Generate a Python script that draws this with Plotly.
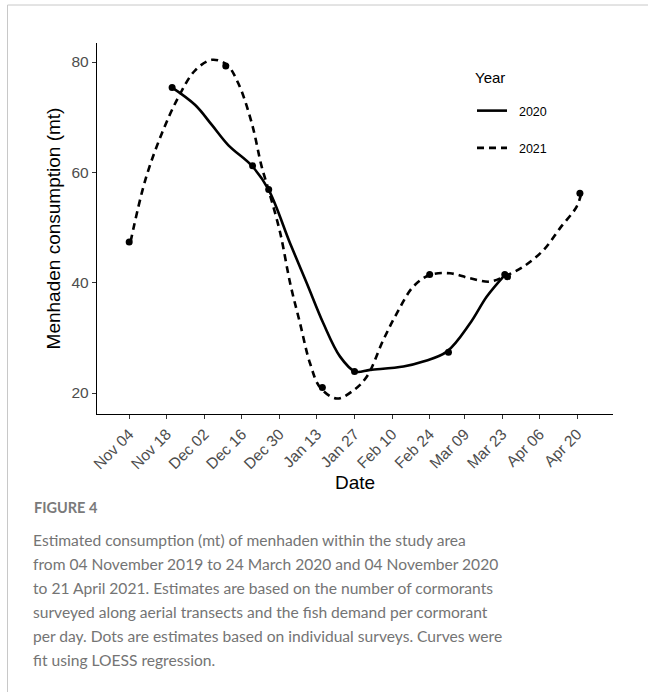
import pandas as pd
import plotly.graph_objects as go

# ---------------- data ----------------
base_date = "2020-11-04"  # common dummy season axis (Nov 04 .. Apr)

# survey dots
dots_2020_dates = ["2020-11-20", "2020-12-20", "2021-01-27", "2021-03-03", "2021-03-24"]
dots_2020_vals = [75.4, 61.2, 23.9, 27.4, 41.5]

dots_2021_dates = ["2020-11-04", "2020-12-10", "2020-12-26", "2021-01-15", "2021-02-24", "2021-03-25", "2021-04-21"]
dots_2021_vals = [47.4, 79.3, 56.9, 21.0, 41.5, 41.1, 56.2]

# LOESS curves (days after Nov 04, value)
curve_2020_days = [15.9, 24.6, 30.8, 37.0, 45.7, 51.9, 60.0, 66.2, 72.4, 78.6, 84.2,
                   89.8, 102.2, 109.6, 118.4, 127.0, 133.3, 139.8]
curve_2020_vals = [75.4, 72.2, 68.6, 64.9, 61.2, 56.9, 47.1, 39.9, 32.6, 26.6, 23.9,
                   24.2, 24.8, 25.7, 27.5, 32.6, 37.5, 41.3]

curve_2021_days = [0.5, 6.0, 12.2, 18.4, 24.6, 30.8, 36.4, 40.7, 45.7, 49.4, 51.9, 56.3,
                   60.0, 63.7, 67.4, 71.2, 77.4, 83.6, 88.6, 94.7, 99.7, 105.9, 112.1,
                   119.6, 127.0, 134.5, 140.1, 146.9, 154.4, 160.6, 166.8, 168.5]
curve_2021_vals = [47.4, 58.6, 67.1, 73.7, 78.5, 80.4, 79.5, 76.1, 68.9, 61.0, 56.9, 49.0,
                   39.9, 32.6, 25.4, 21.0, 19.0, 20.5, 23.0, 29.6, 34.4, 39.3, 41.4,
                   41.7, 40.8, 40.2, 41.2, 42.9, 45.9, 49.9, 53.8, 56.2]

tick_dates = ["2020-11-04", "2020-11-18", "2020-12-02", "2020-12-16", "2020-12-30",
              "2021-01-13", "2021-01-27", "2021-02-10", "2021-02-24", "2021-03-09",
              "2021-03-23", "2021-04-06", "2021-04-20"]
tick_labels = ["Nov 04", "Nov 18", "Dec 02", "Dec 16", "Dec 30", "Jan 13", "Jan 27",
               "Feb 10", "Feb 24", "Mar 09", "Mar 23", "Apr 06", "Apr 20"]
y_ticks = [20, 40, 60, 80]

legend_title = "Year"
caption_title = "FIGURE 4"
caption_lines = [
    "Estimated consumption (mt) of menhaden within the study area",
    "from 04 November 2019 to 24 March 2020 and 04 November 2020",
    "to 21 April 2021. Estimates are based on the number of cormorants",
    "surveyed along aerial transects and the fish demand per cormorant",
    "per day. Dots are estimates based on individual surveys. Curves were",
    "fit using LOESS regression.",
]

# ---------------- figure ----------------
W, H = 648, 692
ML, MR, MT, MB = 97, 35, 43, 278
PW, PH = W - ML - MR, H - MT - MB


def px_x(px):
    return (px - ML) / PW


def px_y(py):
    return (H - MB - py) / PH


b = pd.Timestamp(base_date)
c20x = [b + pd.Timedelta(days=d) for d in curve_2020_days]
c21x = [b + pd.Timedelta(days=d) for d in curve_2021_days]

fig = go.Figure()
fig.add_trace(go.Scatter(x=c20x, y=curve_2020_vals, mode="lines", name="\u00a0\u00a02020",
                         line=dict(color="black", width=2.6, shape="spline", smoothing=1.0),
                         legendgroup="a"))
fig.add_trace(go.Scatter(x=c21x, y=curve_2021_vals, mode="lines", name="\u00a0\u00a02021",
                         line=dict(color="black", width=2.6, dash="7px,5px", shape="spline", smoothing=1.0),
                         legendgroup="b"))
fig.add_trace(go.Scatter(x=dots_2020_dates, y=dots_2020_vals, mode="markers", showlegend=False,
                         marker=dict(color="black", size=7)))
fig.add_trace(go.Scatter(x=dots_2021_dates, y=dots_2021_vals, mode="markers", showlegend=False,
                         marker=dict(color="black", size=7)))

FONT = "Liberation Sans, Arial, sans-serif"
axis_font = dict(family=FONT, size=15.5, color="#4d4d4d")
fig.update_xaxes(type="date", range=["2020-10-23", "2021-05-03 08:00"],
                 tickmode="array", tickvals=tick_dates, ticktext=tick_labels, tickangle=-45,
                 showline=True, linecolor="black", linewidth=1.3, mirror=False,
                 ticks="outside", ticklen=4, tickcolor="#333", tickwidth=1,
                 showgrid=False, zeroline=False, tickfont=axis_font,
                 title=dict(text="Date", font=dict(family=FONT, size=19, color="black"), standoff=3))
fig.update_yaxes(range=[16.2, 83.45], tickmode="array", tickvals=y_ticks,
                 showline=True, linecolor="black", linewidth=1.3,
                 ticks="outside", ticklen=4, tickcolor="#333", tickwidth=1,
                 showgrid=False, zeroline=False, tickfont=axis_font,
                 title=dict(text="Menhaden consumption (mt)", font=dict(family=FONT, size=19, color="black"),
                            standoff=5))

shapes = [
    dict(type="line", xref="paper", yref="paper", x0=px_x(7.5), x1=px_x(660), y0=px_y(5), y1=px_y(5),
         line=dict(color="#c8c8c8", width=1)),
    dict(type="line", xref="paper", yref="paper", x0=px_x(7.5), x1=px_x(7.5), y0=px_y(5), y1=px_y(700),
         line=dict(color="#c8c8c8", width=1)),
]

annotations = [
    dict(xref="paper", yref="paper", x=px_x(473), y=px_y(77), xanchor="left", yanchor="middle",
         text=legend_title, showarrow=False, font=dict(family=FONT, size=15, color="black")),
    dict(xref="paper", yref="paper", x=px_x(32), y=px_y(507), xanchor="left", yanchor="middle",
         text=caption_title, showarrow=False,
         font=dict(family="Lato, Open Sans, sans-serif", size=14.5, color="#7a7a7a", weight="bold")),
]
for i, line in enumerate(caption_lines):
    annotations.append(dict(xref="paper", yref="paper", x=px_x(31), y=px_y(540 + i * 24),
                            xanchor="left", yanchor="middle", text=line, showarrow=False,
                            font=dict(family="Lato, Open Sans, sans-serif", size=15.6, color="#747474")))

fig.update_layout(
    width=W, height=H,
    margin=dict(l=ML, r=MR, t=MT, b=MB),
    paper_bgcolor="white", plot_bgcolor="white",
    shapes=shapes, annotations=annotations,
    legend=dict(x=px_x(472), y=px_y(96), xanchor="left", yanchor="top",
                font=dict(family=FONT, size=12.5, color="black"),
                tracegroupgap=18, bgcolor="rgba(0,0,0,0)", itemwidth=30),
    showlegend=True,
)

fig.write_html("out.html")
